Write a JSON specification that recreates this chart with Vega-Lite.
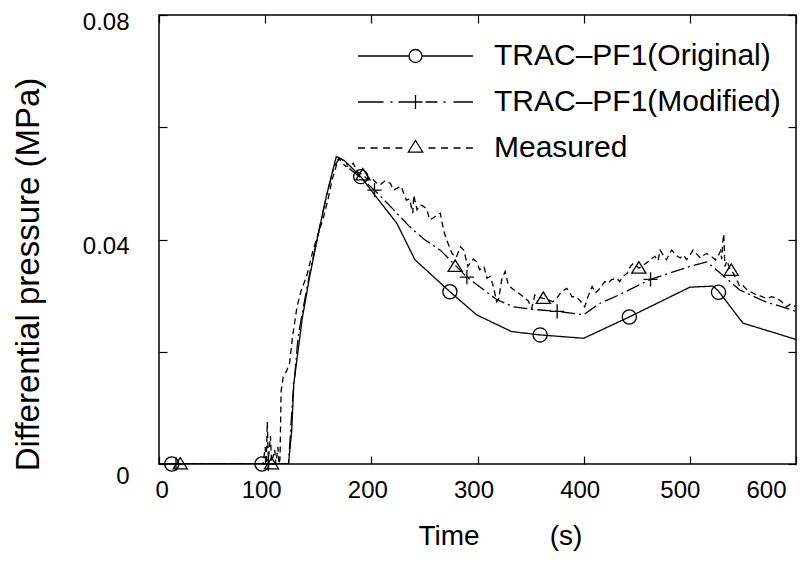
{
  "$schema": "https://vega.github.io/schema/vega-lite/v6.json",
  "width": 637,
  "height": 449,
  "autosize": {"type": "none"},
  "padding": {"left": 159, "top": 15, "right": 13, "bottom": 98},
  "background": "white",
  "config": {
    "view": {"stroke": "black", "strokeWidth": 1.5},
    "font": "Liberation Sans",
    "axis": {"grid": false, "domain": false, "tickColor": "black", "tickWidth": 1.2, "labelColor": "black", "titleColor": "black", "labelFont": "Liberation Sans", "titleFont": "Liberation Sans", "titleFontWeight": "normal"}
  },
  "datasets": {
    "lines": [
      {"s": "TRAC–PF1(Original)", "t": 0, "p": 0},
      {"s": "TRAC–PF1(Original)", "t": 122, "p": 0},
      {"s": "TRAC–PF1(Original)", "t": 125, "p": 0.006},
      {"s": "TRAC–PF1(Original)", "t": 127, "p": 0.0144},
      {"s": "TRAC–PF1(Original)", "t": 135, "p": 0.026},
      {"s": "TRAC–PF1(Original)", "t": 142, "p": 0.0335},
      {"s": "TRAC–PF1(Original)", "t": 150, "p": 0.041},
      {"s": "TRAC–PF1(Original)", "t": 158, "p": 0.048},
      {"s": "TRAC–PF1(Original)", "t": 167, "p": 0.0548},
      {"s": "TRAC–PF1(Original)", "t": 175, "p": 0.054},
      {"s": "TRAC–PF1(Original)", "t": 190, "p": 0.0512},
      {"s": "TRAC–PF1(Original)", "t": 207, "p": 0.047},
      {"s": "TRAC–PF1(Original)", "t": 224, "p": 0.0429},
      {"s": "TRAC–PF1(Original)", "t": 241, "p": 0.0364},
      {"s": "TRAC–PF1(Original)", "t": 274, "p": 0.0307},
      {"s": "TRAC–PF1(Original)", "t": 299, "p": 0.0266},
      {"s": "TRAC–PF1(Original)", "t": 332, "p": 0.0236},
      {"s": "TRAC–PF1(Original)", "t": 359, "p": 0.023},
      {"s": "TRAC–PF1(Original)", "t": 400, "p": 0.0224},
      {"s": "TRAC–PF1(Original)", "t": 443, "p": 0.0262},
      {"s": "TRAC–PF1(Original)", "t": 500, "p": 0.0315},
      {"s": "TRAC–PF1(Original)", "t": 522, "p": 0.0317},
      {"s": "TRAC–PF1(Original)", "t": 527, "p": 0.0308},
      {"s": "TRAC–PF1(Original)", "t": 550, "p": 0.0251},
      {"s": "TRAC–PF1(Original)", "t": 600, "p": 0.0222},

      {"s": "TRAC–PF1(Modified)", "t": 0, "p": 0},
      {"s": "TRAC–PF1(Modified)", "t": 122, "p": 0},
      {"s": "TRAC–PF1(Modified)", "t": 124, "p": 0.006},
      {"s": "TRAC–PF1(Modified)", "t": 126, "p": 0.012},
      {"s": "TRAC–PF1(Modified)", "t": 128, "p": 0.016},
      {"s": "TRAC–PF1(Modified)", "t": 131, "p": 0.0226},
      {"s": "TRAC–PF1(Modified)", "t": 135, "p": 0.027},
      {"s": "TRAC–PF1(Modified)", "t": 142, "p": 0.034},
      {"s": "TRAC–PF1(Modified)", "t": 150, "p": 0.041},
      {"s": "TRAC–PF1(Modified)", "t": 158, "p": 0.048},
      {"s": "TRAC–PF1(Modified)", "t": 165, "p": 0.053},
      {"s": "TRAC–PF1(Modified)", "t": 170, "p": 0.0545},
      {"s": "TRAC–PF1(Modified)", "t": 175, "p": 0.054},
      {"s": "TRAC–PF1(Modified)", "t": 180, "p": 0.0525},
      {"s": "TRAC–PF1(Modified)", "t": 190, "p": 0.051},
      {"s": "TRAC–PF1(Modified)", "t": 203, "p": 0.0488},
      {"s": "TRAC–PF1(Modified)", "t": 220, "p": 0.0455},
      {"s": "TRAC–PF1(Modified)", "t": 236, "p": 0.0423},
      {"s": "TRAC–PF1(Modified)", "t": 250, "p": 0.04},
      {"s": "TRAC–PF1(Modified)", "t": 265, "p": 0.0381},
      {"s": "TRAC–PF1(Modified)", "t": 290, "p": 0.0333},
      {"s": "TRAC–PF1(Modified)", "t": 318, "p": 0.0293},
      {"s": "TRAC–PF1(Modified)", "t": 334, "p": 0.028},
      {"s": "TRAC–PF1(Modified)", "t": 355, "p": 0.0275},
      {"s": "TRAC–PF1(Modified)", "t": 375, "p": 0.0272},
      {"s": "TRAC–PF1(Modified)", "t": 400, "p": 0.0266},
      {"s": "TRAC–PF1(Modified)", "t": 415, "p": 0.0286},
      {"s": "TRAC–PF1(Modified)", "t": 433, "p": 0.0301},
      {"s": "TRAC–PF1(Modified)", "t": 463, "p": 0.0329},
      {"s": "TRAC–PF1(Modified)", "t": 500, "p": 0.0352},
      {"s": "TRAC–PF1(Modified)", "t": 516, "p": 0.036},
      {"s": "TRAC–PF1(Modified)", "t": 525, "p": 0.0346},
      {"s": "TRAC–PF1(Modified)", "t": 547, "p": 0.031},
      {"s": "TRAC–PF1(Modified)", "t": 570, "p": 0.029},
      {"s": "TRAC–PF1(Modified)", "t": 600, "p": 0.0272},

      {"s": "Measured", "t": 0, "p": 0},
      {"s": "Measured", "t": 98, "p": 0},
      {"s": "Measured", "t": 100, "p": 0.003},
      {"s": "Measured", "t": 101, "p": 0},
      {"s": "Measured", "t": 102, "p": 0.0075},
      {"s": "Measured", "t": 103, "p": 0.0008},
      {"s": "Measured", "t": 105, "p": 0.005},
      {"s": "Measured", "t": 106, "p": 0.0003},
      {"s": "Measured", "t": 109, "p": 0.0025},
      {"s": "Measured", "t": 110, "p": 0},
      {"s": "Measured", "t": 112, "p": 0.003},
      {"s": "Measured", "t": 113, "p": 0},
      {"s": "Measured", "t": 114, "p": 0.001},
      {"s": "Measured", "t": 115, "p": 0.013},
      {"s": "Measured", "t": 117, "p": 0.0155},
      {"s": "Measured", "t": 120, "p": 0.0165},
      {"s": "Measured", "t": 123, "p": 0.018},
      {"s": "Measured", "t": 126, "p": 0.023},
      {"s": "Measured", "t": 130, "p": 0.028},
      {"s": "Measured", "t": 134, "p": 0.031},
      {"s": "Measured", "t": 139, "p": 0.0334},
      {"s": "Measured", "t": 145, "p": 0.038},
      {"s": "Measured", "t": 150, "p": 0.041},
      {"s": "Measured", "t": 155, "p": 0.044},
      {"s": "Measured", "t": 159, "p": 0.047},
      {"s": "Measured", "t": 163, "p": 0.0506},
      {"s": "Measured", "t": 166, "p": 0.0525},
      {"s": "Measured", "t": 169, "p": 0.0545},
      {"s": "Measured", "t": 172, "p": 0.0538},
      {"s": "Measured", "t": 176, "p": 0.053},
      {"s": "Measured", "t": 180, "p": 0.0532},
      {"s": "Measured", "t": 183, "p": 0.0536},
      {"s": "Measured", "t": 187, "p": 0.052},
      {"s": "Measured", "t": 192, "p": 0.0515},
      {"s": "Measured", "t": 196, "p": 0.0508},
      {"s": "Measured", "t": 200, "p": 0.051},
      {"s": "Measured", "t": 204, "p": 0.0502},
      {"s": "Measured", "t": 208, "p": 0.0497},
      {"s": "Measured", "t": 213, "p": 0.0505},
      {"s": "Measured", "t": 218, "p": 0.05},
      {"s": "Measured", "t": 221, "p": 0.0488},
      {"s": "Measured", "t": 224, "p": 0.0491},
      {"s": "Measured", "t": 228, "p": 0.0495},
      {"s": "Measured", "t": 231, "p": 0.048},
      {"s": "Measured", "t": 233, "p": 0.047},
      {"s": "Measured", "t": 236, "p": 0.0472},
      {"s": "Measured", "t": 239, "p": 0.0447},
      {"s": "Measured", "t": 240, "p": 0.0479},
      {"s": "Measured", "t": 243, "p": 0.0453},
      {"s": "Measured", "t": 246, "p": 0.0462},
      {"s": "Measured", "t": 249, "p": 0.0459},
      {"s": "Measured", "t": 252, "p": 0.0455},
      {"s": "Measured", "t": 255, "p": 0.0435},
      {"s": "Measured", "t": 258, "p": 0.0438},
      {"s": "Measured", "t": 262, "p": 0.0444},
      {"s": "Measured", "t": 265, "p": 0.0447},
      {"s": "Measured", "t": 268, "p": 0.0417},
      {"s": "Measured", "t": 271, "p": 0.0399},
      {"s": "Measured", "t": 274, "p": 0.0385},
      {"s": "Measured", "t": 276, "p": 0.0375},
      {"s": "Measured", "t": 280, "p": 0.0368},
      {"s": "Measured", "t": 284, "p": 0.0387},
      {"s": "Measured", "t": 287, "p": 0.0381},
      {"s": "Measured", "t": 291, "p": 0.0352},
      {"s": "Measured", "t": 293, "p": 0.0358},
      {"s": "Measured", "t": 296, "p": 0.0365},
      {"s": "Measured", "t": 299, "p": 0.0361},
      {"s": "Measured", "t": 302, "p": 0.0346},
      {"s": "Measured", "t": 306, "p": 0.0352},
      {"s": "Measured", "t": 309, "p": 0.0331},
      {"s": "Measured", "t": 312, "p": 0.0334},
      {"s": "Measured", "t": 315, "p": 0.0316},
      {"s": "Measured", "t": 318, "p": 0.0289},
      {"s": "Measured", "t": 320, "p": 0.0295},
      {"s": "Measured", "t": 323, "p": 0.033},
      {"s": "Measured", "t": 326, "p": 0.0343},
      {"s": "Measured", "t": 329, "p": 0.0319},
      {"s": "Measured", "t": 333, "p": 0.0312},
      {"s": "Measured", "t": 337, "p": 0.0307},
      {"s": "Measured", "t": 341, "p": 0.0301},
      {"s": "Measured", "t": 345, "p": 0.0295},
      {"s": "Measured", "t": 348, "p": 0.029},
      {"s": "Measured", "t": 351, "p": 0.0277},
      {"s": "Measured", "t": 354, "p": 0.0301},
      {"s": "Measured", "t": 358, "p": 0.0297},
      {"s": "Measured", "t": 362, "p": 0.0295},
      {"s": "Measured", "t": 366, "p": 0.0293},
      {"s": "Measured", "t": 371, "p": 0.0289},
      {"s": "Measured", "t": 375, "p": 0.0296},
      {"s": "Measured", "t": 379, "p": 0.0307},
      {"s": "Measured", "t": 384, "p": 0.0313},
      {"s": "Measured", "t": 387, "p": 0.0305},
      {"s": "Measured", "t": 389, "p": 0.0298},
      {"s": "Measured", "t": 393, "p": 0.0298},
      {"s": "Measured", "t": 397, "p": 0.029},
      {"s": "Measured", "t": 401, "p": 0.028},
      {"s": "Measured", "t": 404, "p": 0.0298},
      {"s": "Measured", "t": 408, "p": 0.0316},
      {"s": "Measured", "t": 411, "p": 0.0305},
      {"s": "Measured", "t": 414, "p": 0.031},
      {"s": "Measured", "t": 417, "p": 0.0318},
      {"s": "Measured", "t": 420, "p": 0.0325},
      {"s": "Measured", "t": 423, "p": 0.0322},
      {"s": "Measured", "t": 426, "p": 0.0328},
      {"s": "Measured", "t": 431, "p": 0.0331},
      {"s": "Measured", "t": 434, "p": 0.0325},
      {"s": "Measured", "t": 437, "p": 0.0334},
      {"s": "Measured", "t": 441, "p": 0.034},
      {"s": "Measured", "t": 444, "p": 0.0352},
      {"s": "Measured", "t": 447, "p": 0.0358},
      {"s": "Measured", "t": 452, "p": 0.0349},
      {"s": "Measured", "t": 455, "p": 0.0353},
      {"s": "Measured", "t": 459, "p": 0.0358},
      {"s": "Measured", "t": 463, "p": 0.0364},
      {"s": "Measured", "t": 467, "p": 0.037},
      {"s": "Measured", "t": 470, "p": 0.0362},
      {"s": "Measured", "t": 472, "p": 0.0381},
      {"s": "Measured", "t": 475, "p": 0.0372},
      {"s": "Measured", "t": 478, "p": 0.0364},
      {"s": "Measured", "t": 481, "p": 0.0375},
      {"s": "Measured", "t": 483, "p": 0.0381},
      {"s": "Measured", "t": 487, "p": 0.0372},
      {"s": "Measured", "t": 491, "p": 0.0367},
      {"s": "Measured", "t": 494, "p": 0.0372},
      {"s": "Measured", "t": 497, "p": 0.0364},
      {"s": "Measured", "t": 500, "p": 0.0372},
      {"s": "Measured", "t": 503, "p": 0.0381},
      {"s": "Measured", "t": 507, "p": 0.0373},
      {"s": "Measured", "t": 510, "p": 0.0367},
      {"s": "Measured", "t": 513, "p": 0.0372},
      {"s": "Measured", "t": 516, "p": 0.0375},
      {"s": "Measured", "t": 520, "p": 0.037},
      {"s": "Measured", "t": 524, "p": 0.0364},
      {"s": "Measured", "t": 527, "p": 0.0372},
      {"s": "Measured", "t": 529, "p": 0.038},
      {"s": "Measured", "t": 530, "p": 0.0365},
      {"s": "Measured", "t": 531, "p": 0.0395},
      {"s": "Measured", "t": 532, "p": 0.041},
      {"s": "Measured", "t": 533, "p": 0.0352},
      {"s": "Measured", "t": 535, "p": 0.0362},
      {"s": "Measured", "t": 538, "p": 0.0346},
      {"s": "Measured", "t": 541, "p": 0.034},
      {"s": "Measured", "t": 543, "p": 0.0331},
      {"s": "Measured", "t": 545, "p": 0.0325},
      {"s": "Measured", "t": 547, "p": 0.0316},
      {"s": "Measured", "t": 550, "p": 0.0318},
      {"s": "Measured", "t": 554, "p": 0.031},
      {"s": "Measured", "t": 558, "p": 0.0306},
      {"s": "Measured", "t": 563, "p": 0.0301},
      {"s": "Measured", "t": 567, "p": 0.0299},
      {"s": "Measured", "t": 572, "p": 0.0295},
      {"s": "Measured", "t": 577, "p": 0.0298},
      {"s": "Measured", "t": 582, "p": 0.0295},
      {"s": "Measured", "t": 586, "p": 0.029},
      {"s": "Measured", "t": 591, "p": 0.028},
      {"s": "Measured", "t": 595, "p": 0.0285},
      {"s": "Measured", "t": 600, "p": 0.028}
    ],
    "markers": [
      {"s": "TRAC–PF1(Original)", "t": 12, "p": 0},
      {"s": "TRAC–PF1(Original)", "t": 97, "p": 0},
      {"s": "TRAC–PF1(Original)", "t": 190, "p": 0.0512},
      {"s": "TRAC–PF1(Original)", "t": 274, "p": 0.0307},
      {"s": "TRAC–PF1(Original)", "t": 359, "p": 0.023},
      {"s": "TRAC–PF1(Original)", "t": 443, "p": 0.0262},
      {"s": "TRAC–PF1(Original)", "t": 527, "p": 0.0306},
      {"s": "TRAC–PF1(Modified)", "t": 16, "p": 0},
      {"s": "TRAC–PF1(Modified)", "t": 103, "p": 0},
      {"s": "TRAC–PF1(Modified)", "t": 203, "p": 0.0488},
      {"s": "TRAC–PF1(Modified)", "t": 290, "p": 0.0333},
      {"s": "TRAC–PF1(Modified)", "t": 375, "p": 0.0272},
      {"s": "TRAC–PF1(Modified)", "t": 463, "p": 0.0329},
      {"s": "Measured", "t": 20, "p": 0},
      {"s": "Measured", "t": 106, "p": 0},
      {"s": "Measured", "t": 192, "p": 0.0515},
      {"s": "Measured", "t": 279, "p": 0.0352},
      {"s": "Measured", "t": 362, "p": 0.0295},
      {"s": "Measured", "t": 452, "p": 0.0349},
      {"s": "Measured", "t": 539, "p": 0.0345}
    ]
  },
  "layer": [
    {
      "data": {"name": "lines"},
      "mark": {"type": "line", "color": "black", "strokeWidth": 1.3, "clip": true},
      "encoding": {
        "x": {
          "field": "t", "type": "quantitative",
          "scale": {"domain": [0, 600], "nice": false},
          "axis": {
            "orient": "bottom",
            "values": [0, 100, 200, 300, 400, 500, 600],
            "tickSize": -8,
            "labelFontSize": 24,
            "labelPadding": 22,
            "labelOffset": {"condition": {"test": "datum.value >= 500", "value": -10}, "value": -4},
            "title": "Time\u00a0\u00a0\u00a0\u00a0\u00a0\u00a0\u00a0\u00a0\u00a0(s)",
            "titleFontSize": 28,
            "titleAnchor": "start",
            "titleAlign": "left",
            "titleX": 259,
            "titlePadding": 20
          }
        },
        "y": {
          "field": "p", "type": "quantitative",
          "scale": {"domain": [0, 0.08], "nice": false},
          "axis": {
            "orient": "left",
            "values": [0, 0.02, 0.04, 0.06, 0.08],
            "tickSize": -8,
            "labelFontSize": 24,
            "labelPadding": 38,
            "labelOffset": {"condition": {"test": "datum.value == 0", "value": 12}, "value": 7},
            "labelExpr": "datum.value == 0 ? '0' : datum.value == 0.04 ? '0.04' : datum.value == 0.08 ? '0.08' : ''",
            "title": "Differential pressure (MPa)",
            "titleFontSize": 33,
            "titleAngle": -90,
            "titleAlign": "center",
            "titleBaseline": "middle",
            "titleX": -131,
            "titleY": 259
          }
        },
        "strokeDash": {
          "field": "s", "type": "nominal",
          "scale": {"domain": ["TRAC–PF1(Original)", "TRAC–PF1(Modified)", "Measured"], "range": [[1, 0], [14, 4, 2, 4], [6, 4]]},
          "legend": null
        }
      }
    },
    {
      "data": {"name": "markers"},
      "mark": {"type": "point", "filled": false, "color": "black", "strokeWidth": 1.3, "size": 200, "opacity": 1},
      "encoding": {
        "x": {"field": "t", "type": "quantitative", "axis": null},
        "y": {"field": "p", "type": "quantitative", "axis": null},
        "shape": {
          "field": "s", "type": "nominal",
          "scale": {"domain": ["TRAC–PF1(Original)", "TRAC–PF1(Modified)", "Measured"], "range": ["circle", "M-1,0H1M0,-1V1", "M-1,0.7L1,0.7L0,-0.9Z"]},
          "legend": null
        }
      }
    },
    {
      "data": {"name": "markers"},
      "transform": [{"filter": "datum.t < -1"}],
      "mark": {"type": "point", "filled": false, "color": "black", "strokeWidth": 1.3},
      "encoding": {
        "x": {"field": "t", "type": "quantitative", "axis": {"orient": "top", "values": [0, 100, 200, 300, 400, 500, 600], "tickSize": -8, "labels": false, "title": null}},
        "y": {"field": "p", "type": "quantitative", "axis": {"orient": "right", "values": [0, 0.02, 0.04, 0.06, 0.08], "tickSize": -8, "labels": false, "title": null}},
        "shape": {
          "field": "s", "type": "nominal",
          "scale": {
            "domain": ["TRAC–PF1(Original)", "TRAC–PF1(Modified)", "Measured"],
            "range": [
              "M-1,0H-0.113M0.113,0H1M-0.113,0A0.113,0.113 0 1,0 0.113,0A0.113,0.113 0 1,0 -0.113,0",
              "M-1,0H-0.557M-0.435,0H-0.4M-0.296,0H0.087M0.174,0H0.383M0.487,0H0.522M0.661,0H1M-0.12,0H0.12M0,-0.12V0.12",
              "M-1,0H-0.878M-0.783,0H-0.661M-0.565,0H-0.443M-0.348,0H-0.226M0.226,0H0.348M0.443,0H0.565M0.661,0H0.783M0.878,0H1M-0.125,0.07L0.125,0.07L0,-0.13Z"
            ]
          },
          "legend": {
            "orient": "none",
            "legendX": 198,
            "legendY": 18,
            "title": null,
            "clipHeight": 46,
            "symbolSize": 13225,
            "symbolStrokeWidth": 1.3,
            "symbolStrokeColor": "black",
            "symbolFillColor": "transparent",
            "symbolOpacity": 1,
            "labelFont": "Liberation Sans",
            "labelFontSize": 30,
            "labelLimit": 0,
            "labelColor": "black",
            "labelOffset": 20,
            "rowPadding": 0,
            "padding": 0
          }
        }
      }
    }
  ],
  "resolve": {"scale": {"shape": "independent"}, "axis": {"x": "independent", "y": "independent"}}
}
